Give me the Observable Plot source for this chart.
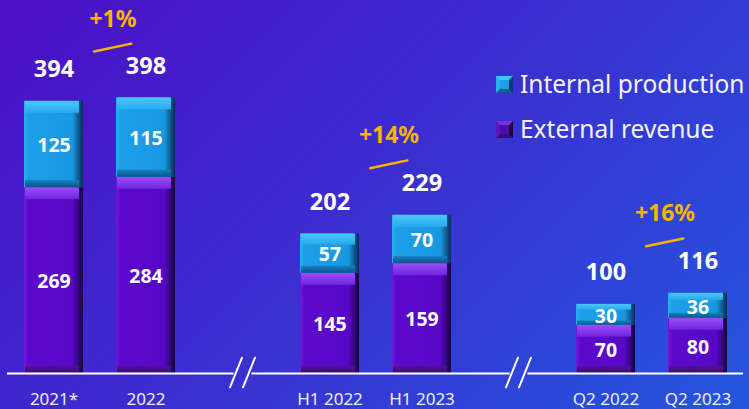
<!DOCTYPE html>
<html><head><meta charset="utf-8">
<script src="https://cdn.jsdelivr.net/npm/d3@7"></script>
<script src="https://cdn.jsdelivr.net/npm/@observablehq/plot@0.6"></script>
<style>
html,body{margin:0;padding:0;}
body{width:749px;height:409px;overflow:hidden;position:relative;
  background:linear-gradient(135deg,#4c0ec6 0%,#3a2fd0 50%,#2456df 100%);
  font-family:"Noto Sans",sans-serif;}
#chart{position:absolute;left:0;top:0;}
#legend{position:absolute;left:496px;top:61px;color:#f3f3ff;font-size:24.5px;line-height:45px;}
.row{display:flex;align-items:center;white-space:nowrap;}
.sw{width:9px;height:9px;border-style:solid;border-width:4px;margin-right:7px;margin-top:2px;}
</style>
</head><body>
<div id="chart"></div>
<div id="legend"></div>
<script>
// ---- data ----
const categories = ["2021*", "2022", "H1 2022", "H1 2023", "Q2 2022", "Q2 2023"];
const externalRevenue = [269, 284, 145, 159, 70, 80];
const internalProduction = [125, 115, 57, 70, 30, 36];
const totals = [394, 398, 202, 229, 100, 116];
const growthLabels = ["+1%", "+14%", "+16%"];
const seriesNames = ["Internal production", "External revenue"];
const gapSlots = [" ", "  "];

// x domain with empty slots for the axis breaks
const xDomain = [categories[0], categories[1], gapSlots[0], categories[2], categories[3], gapSlots[1], categories[4], categories[5]];

const yMax = 540;
const pxPerUnit = 373 / yMax;
const toUnits = px => px / pxPerUnit;

// stacked rows
const rows = [];
categories.forEach((c, i) => {
  rows.push({cat: c, series: seriesNames[1], y1: 0, y2: externalRevenue[i], value: externalRevenue[i]});
  rows.push({cat: c, series: seriesNames[0], y1: externalRevenue[i], y2: externalRevenue[i] + internalProduction[i], value: internalProduction[i]});
});
rows.forEach(r => {
  const segPx = (r.y2 - r.y1) * pxPerUnit;
  r.bevTop = toUnits(Math.min(12, segPx * 0.28));
  r.bevBot = toUnits(Math.min(7, segPx * 0.2));
});
const totRows = categories.map((c, i) => ({cat: c, total: totals[i]}));
const groups = growthLabels.map((g, k) => ({
  a: categories[2 * k], b: categories[2 * k + 1], label: g,
  max: Math.max(totals[2 * k], totals[2 * k + 1])
}));

const blue = {face: "url(#gBlue)", top: "url(#gBlueTop)", bot: "url(#gBlueBot)"};
const purple = {face: "url(#gPurp)", top: "url(#gPurpTop)", bot: "url(#gPurpBot)"};
const col = s => s === seriesNames[0] ? blue : purple;

function segMarks(series) {
  const d = rows.filter(r => r.series === series);
  const c = col(series);
  return [
    Plot.rectY(d, {x: "cat", y1: "y1", y2: "y2", fill: c.face}),
    Plot.rectY(d, {x: "cat", y1: r => r.y2 - r.bevTop, y2: "y2", fill: c.top, insetLeft: 1, insetRight: 4}),
    Plot.rectY(d, {x: "cat", y1: "y1", y2: r => r.y1 + r.bevBot, fill: c.bot, insetLeft: 1, insetRight: 4})
  ];
}

const slash = {draw(context, l) { context.moveTo(0, 0); context.lineTo(0, -l); }};
const gapBg = ["#3930d1", "#2d45d9"];

const chart = Plot.plot({
  width: 749, height: 409,
  marginLeft: 7, marginRight: 6, marginTop: 0, marginBottom: 36,
  x: {type: "band", domain: xDomain, paddingInner: 0.36, paddingOuter: 0.18, axis: null},
  y: {domain: [0, yMax], axis: null},
  style: {background: "transparent", overflow: "visible", fontFamily: "'Noto Sans', sans-serif", fontSize: "17px"},
  marks: [
    ...segMarks(seriesNames[1]),
    ...segMarks(seriesNames[0]),
    Plot.ruleY([0], {stroke: "white", strokeWidth: 2}),
    // axis breaks: cut in the line, then two slashes
    Plot.vector(gapSlots, {x: d => d, y: 0, length: 13, rotate: 90, anchor: "middle", dx: 4.5, shape: slash, stroke: (d, i) => gapBg[i], strokeWidth: 5}),
    Plot.vector(gapSlots, {x: d => d, y: 0, length: 32, rotate: 22, anchor: "middle", dx: -2, dy: -1, shape: slash, stroke: "white", strokeWidth: 2}),
    Plot.vector(gapSlots, {x: d => d, y: 0, length: 32, rotate: 22, anchor: "middle", dx: 11, dy: -1, shape: slash, stroke: "white", strokeWidth: 2}),
    Plot.text(categories, {x: d => d, frameAnchor: "bottom", dy: 31, text: d => d, fill: "#eeeeff", fontSize: 17}),
    Plot.text(rows, {x: "cat", y: r => (r.y1 + r.y2) / 2, text: r => String(r.value), dy: 1.5, fill: "white", fontSize: 19.5, fontWeight: "bold"}),
    Plot.text(totRows, {x: "cat", y: "total", text: r => String(r.total), dy: -32, fill: "white", fontSize: 23.5, fontWeight: "bold"}),
    Plot.arrow(groups, {x1: "a", x2: "b", y1: g => g.max + 56, y2: g => g.max + 84, headLength: 0, bend: 0, insetStart: 41, insetEnd: 15, stroke: "#f7b500", strokeWidth: 2.5}),
    Plot.text(groups, {x: "a", y: g => g.max + 115, dx: 59, text: "label", fill: "#f7b500", fontSize: 23, fontWeight: "bold"})
  ]
});

// gradients
const defs = d3.select(chart).insert("defs", ":first-child");
function grad(id, horiz, stops) {
  const g = defs.append("linearGradient").attr("id", id)
    .attr("x1", 0).attr("y1", 0).attr("x2", horiz ? 1 : 0).attr("y2", horiz ? 0 : 1);
  stops.forEach(([o, c]) => g.append("stop").attr("offset", o).attr("stop-color", c));
}
grad("gBlue", true, [[0, "#2cb0f0"], [0.07, "#1d9fe8"], [0.82, "#1898e2"], [0.9, "#11679f"], [1, "#0a2a55"]]);
grad("gBlueTop", false, [[0, "#48c8fa"], [1, "#2aa9ec"]]);
grad("gBlueBot", false, [[0, "#1680c0"], [1, "#0d5288"]]);
grad("gPurp", true, [[0, "#6c1cda"], [0.07, "#5d09cc"], [0.82, "#5807c6"], [0.9, "#3b078f"], [1, "#150636"]]);
grad("gPurpTop", false, [[0, "#9a50f6"], [1, "#6e25e0"]]);
grad("gPurpBot", false, [[0, "#4c1496"], [1, "#3a0d70"]]);

document.getElementById("chart").appendChild(chart);

// legend
const legend = d3.select("#legend");
const swStyles = [
  {c: "#1c9ee6", t: "#44c4f8", l: "#2ab0f0", r: "#0a3a6e", b: "#0e5f98"},
  {c: "#4a0bb0", t: "#7a30d8", l: "#5a18c0", r: "#1a0845", b: "#3a0c80"}
];
seriesNames.forEach((name, i) => {
  const s = swStyles[i];
  const row = legend.append("div").attr("class", "row");
  row.append("div").attr("class", "sw")
    .style("background", s.c)
    .style("border-color", `${s.t} ${s.r} ${s.b} ${s.l}`);
  row.append("span").text(name);
});
</script>
</body></html>
